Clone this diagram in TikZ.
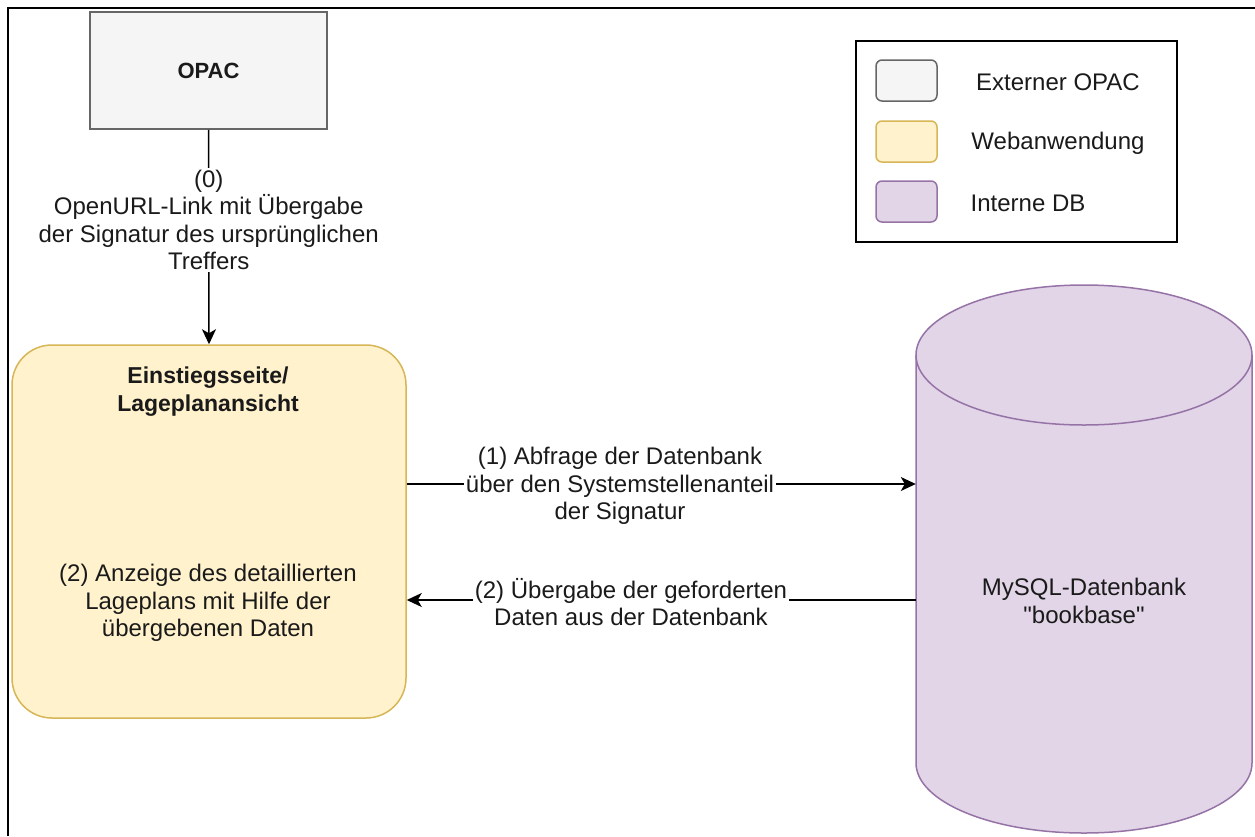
\documentclass[tikz,border=0pt]{standalone}
\usepackage{fontspec}
\setmainfont{Liberation Sans}[Ligatures=TeXOff]
\usetikzlibrary{arrows.meta}
\definecolor{opacfill}{HTML}{F5F5F5}
\definecolor{opacline}{HTML}{666666}
\definecolor{webfill}{HTML}{FFF2CC}
\definecolor{webline}{HTML}{D6B656}
\definecolor{dbfill}{HTML}{E1D5E7}
\definecolor{dbline}{HTML}{9673A6}
\definecolor{txt}{HTML}{1A1A1A}
\tikzset{
  lbl/.style={font=\fontsize{24}{27.5}\selectfont, align=center, inner sep=1pt, text=txt},
  boldlbl/.style={font=\fontsize{23}{28}\selectfont\bfseries, align=center, inner sep=0pt, text=txt},
  edgelbl/.style={lbl, fill=white, inner sep=2pt},
  conn/.style={line width=1.5pt, draw=black},
  arr/.style={conn, -{Stealth[length=15pt, width=14pt, inset=4pt]}},
  swatch/.style={draw, line width=1.5pt, rounded corners=6pt, minimum width=61pt, minimum height=41pt, inner sep=0pt},
}
\begin{document}
\begin{tikzpicture}[x=1pt, y=-1pt]
\useasboundingbox (0,0) rectangle (1255,836);
% frame (only top and left visible)
\draw[line width=1.5pt] (8,836) -- (8,8) -- (1255,8);

% OPAC
\node[draw=opacline, fill=opacfill, line width=1.5pt, minimum width=237pt, minimum height=117pt, inner sep=0pt,
      font=\fontsize{22}{26}\selectfont\bfseries, text=txt] (opac) at (208.5,70.5) {OPAC};

% Einstiegsseite box
\node[draw=webline, fill=webfill, line width=1.5pt, rounded corners=40pt, minimum width=394pt, minimum height=373pt, inner sep=0pt] (ein) at (209,531.5) {};
\node[boldlbl] (eintitle) at (208,392) {Einstiegsseite/\\Lageplanansicht};
\node[lbl] (eintext) at (208,603) {(2) Anzeige des detaillierten\\Lageplans mit Hilfe der\\übergebenen Daten};

% Cylinder
\path[draw=dbline, fill=dbfill, line width=1.5pt]
  (916,355) -- (916,763) arc[start angle=180, end angle=360, x radius=168pt, y radius=70pt]
  -- (1252,355) arc[start angle=0, end angle=180, x radius=168pt, y radius=70pt] -- cycle;
\draw[dbline, line width=1.5pt] (916,355) arc[start angle=180, end angle=360, x radius=168pt, y radius=70pt];
\node[minimum width=336pt, minimum height=548pt, inner sep=0pt] (db) at (1084,559) {};
\node[lbl] (dbtext) at (1084,601) {MySQL-Datenbank\\"bookbase"};

% Legend
\node[draw=black, line width=2pt, minimum width=321pt, minimum height=201pt, inner sep=0pt] (legend) at (1016.5,141.5) {};
\node[swatch, draw=opacline, fill=opacfill] (sw1) at (906.5,80.5) {};
\node[swatch, draw=webline, fill=webfill] (sw2) at (906.5,141.5) {};
\node[swatch, draw=dbline, fill=dbfill] (sw3) at (906.5,201.5) {};
\node[lbl] (lg1) at (1058,82) {Externer OPAC};
\node[lbl] (lg2) at (1058,143) {Webanwendung};
\node[lbl] (lg3) at (1028,203) {Interne DB};

% Connectors
\coordinate (r1) at (0,484);
\coordinate (r2) at (0,600);
\draw[arr] (opac.south) -- node[edgelbl, pos=0.42] (l0) {(0)\\OpenURL-Link mit Übergabe\\der Signatur des ursprünglichen\\Treffers} (ein.north);
\draw[arr] (ein.east |- r1) -- (db.west |- r1);
\node[edgelbl] (l1) at (620,486) {(1) Abfrage der Datenbank\\über den Systemstellenanteil\\der Signatur};
\draw[arr] (db.west |- r2) -- (ein.east |- r2);
\node[edgelbl] (l2) at (631,602) {(2) Übergabe der geforderten\\Daten aus der Datenbank};
\end{tikzpicture}
\end{document}
